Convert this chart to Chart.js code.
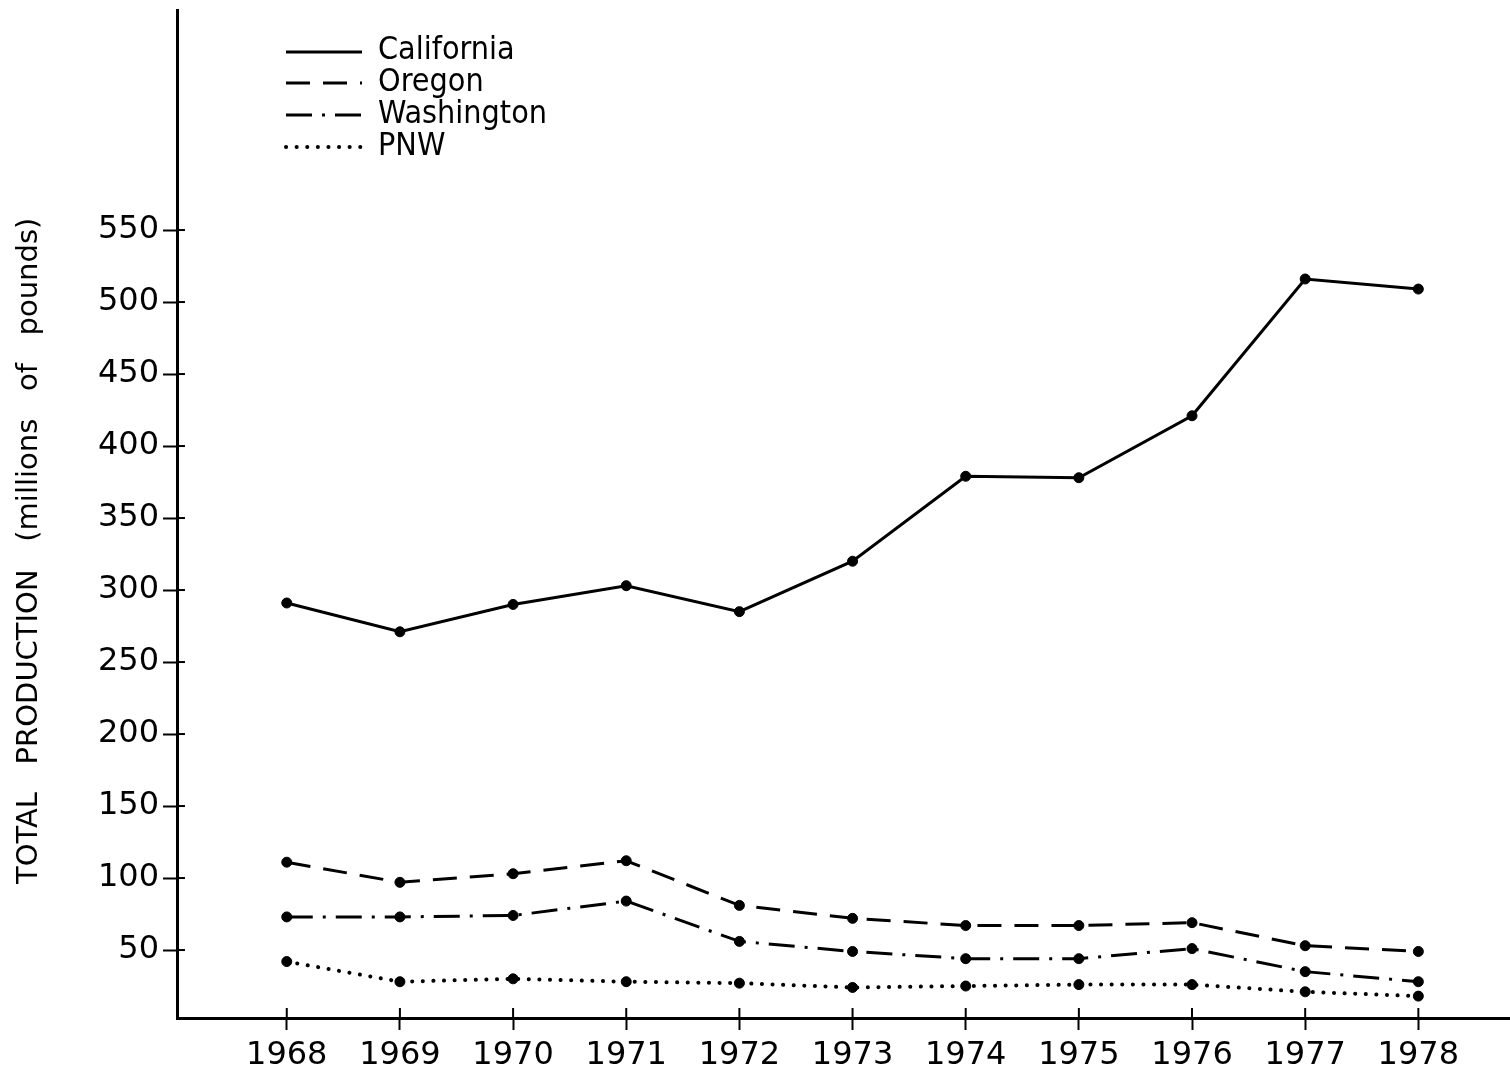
<!DOCTYPE html>
<html>
<head>
<meta charset="utf-8">
<script src="https://cdn.jsdelivr.net/npm/chart.js"></script>
<style>
  html, body { margin: 0; padding: 0; background: #fff; overflow: hidden; }
  #wrap { width: 1510px; height: 1069px; }
</style>
</head>
<body>
<div id="wrap"><canvas id="prodChart"></canvas></div>
<script>
// values (millions of pounds)
const years = [1968, 1969, 1970, 1971, 1972, 1973, 1974, 1975, 1976, 1977, 1978];
const yTickValues = [50, 100, 150, 200, 250, 300, 350, 400, 450, 500, 550];
const california = [291, 271, 290, 303, 285, 320, 379, 378, 421, 516, 509];
const oregon     = [111, 97, 103, 112, 81, 72, 67, 67, 69, 53, 49];
const washington = [73, 73, 74, 84, 56, 49, 44, 44, 51, 35, 28];
const pnw        = [42, 28, 30, 28, 27, 24, 25, 26, 26, 21, 18];

const INK = '#000';
const tickFont = { family: '"DejaVu Sans", sans-serif', size: 32 };

function toPoints(values) {
    return years.map((yr, i) => ({ x: yr, y: values[i] }));
}

function lineSet(label, values, dash, cap, width) {
    return {
        label: label,
        data: toPoints(values),
        borderColor: INK,
        borderWidth: width || 3,
        borderDash: dash,
        borderCapStyle: cap || 'butt',
        pointRadius: 5,
        pointBackgroundColor: INK,
        pointBorderColor: INK,
        pointBorderWidth: 1,
        tension: 0,
        fill: false
    };
}

// legend drawn by hand so each entry shows its own line style
const styleLegend = {
    id: 'styleLegend',
    afterDraw(chart) {
        const ctx = chart.ctx;
        const lineY = [52, 83, 115, 147];
        const textY = [59, 91, 123, 155];
        ctx.save();
        chart.data.datasets.forEach((ds, i) => {
            ctx.strokeStyle = INK;
            ctx.lineWidth = ds.borderWidth;
            ctx.lineCap = ds.borderCapStyle;
            ctx.setLineDash(ds.borderDash || []);
            ctx.beginPath();
            ctx.moveTo(286, lineY[i]);
            ctx.lineTo(362, lineY[i]);
            ctx.stroke();
            ctx.setLineDash([]);
            ctx.fillStyle = INK;
            ctx.font = '32px "DejaVu Sans Condensed", "DejaVu Sans", sans-serif';
            ctx.textBaseline = 'alphabetic';
            ctx.textAlign = 'left';
            ctx.fillText(ds.label, 378, textY[i]);
        });
        ctx.restore();
    }
};

// short part of each tick that pokes inside the axes
const innerTicks = {
    id: 'innerTicks',
    afterDraw(chart) {
        const { ctx, chartArea, scales } = chart;
        ctx.save();
        ctx.strokeStyle = INK;
        ctx.lineWidth = 2;
        scales.y.ticks.forEach(t => {
            const py = scales.y.getPixelForValue(t.value);
            ctx.beginPath();
            ctx.moveTo(chartArea.left, py);
            ctx.lineTo(chartArea.left + 8, py);
            ctx.stroke();
        });
        scales.x.ticks.forEach(t => {
            const px = scales.x.getPixelForValue(t.value);
            ctx.beginPath();
            ctx.moveTo(px, chartArea.bottom);
            ctx.lineTo(px, chartArea.bottom - 10);
            ctx.stroke();
        });
        ctx.restore();
    }
};

new Chart(document.getElementById('prodChart'), {
    type: 'line',
    data: {
        datasets: [
            lineSet('California', california, []),
            lineSet('Oregon', oregon, [24, 13]),
            lineSet('Washington', washington, [26, 10, 3, 10]),
            lineSet('PNW', pnw, [0.1, 10.5], 'round', 4)
        ]
    },
    options: {
        responsive: true,
        maintainAspectRatio: false,
        animation: false,
        layout: { autoPadding: false, padding: { top: 10, right: 0, left: 0, bottom: 0 } },
        plugins: {
            legend: { display: false },
            tooltip: { enabled: false }
        },
        scales: {
            x: {
                type: 'linear',
                min: 1967.03,
                max: 1978.81,
                afterBuildTicks: scale => { scale.ticks = years.map(v => ({ value: v })); },
                afterFit: scale => {
                    scale.height = 51;
                    scale.paddingLeft = 0;
                    scale.paddingRight = 0;
                },
                ticks: {
                    color: INK,
                    font: tickFont,
                    padding: 6,
                    maxRotation: 0,
                    autoSkip: false,
                    callback: v => String(v)
                },
                grid: {
                    drawOnChartArea: false,
                    color: INK,
                    tickLength: 12,
                    tickWidth: 2
                },
                border: { color: INK, width: 3 }
            },
            y: {
                min: 2.8,
                max: 702.8,
                afterBuildTicks: scale => { scale.ticks = yTickValues.map(v => ({ value: v })); },
                afterFit: scale => {
                    scale.width = 177;
                    scale.paddingTop = 0;
                    scale.paddingBottom = 0;
                },
                ticks: {
                    color: INK,
                    font: tickFont,
                    padding: 4,
                    autoSkip: false
                },
                grid: {
                    drawOnChartArea: false,
                    color: INK,
                    tickLength: 14,
                    tickWidth: 2
                },
                border: { color: INK, width: 3 },
                title: {
                    display: true,
                    // trailing spaces nudge the visible text down, as in the original
                    text: 'TOTAL   PRODUCTION   (millions   of   pounds)        ',
                    color: INK,
                    font: { family: '"DejaVu Sans", sans-serif', size: 29 },
                    padding: { top: 12, bottom: 0 }
                }
            }
        }
    },
    plugins: [styleLegend, innerTicks]
});
</script>
</body>
</html>
